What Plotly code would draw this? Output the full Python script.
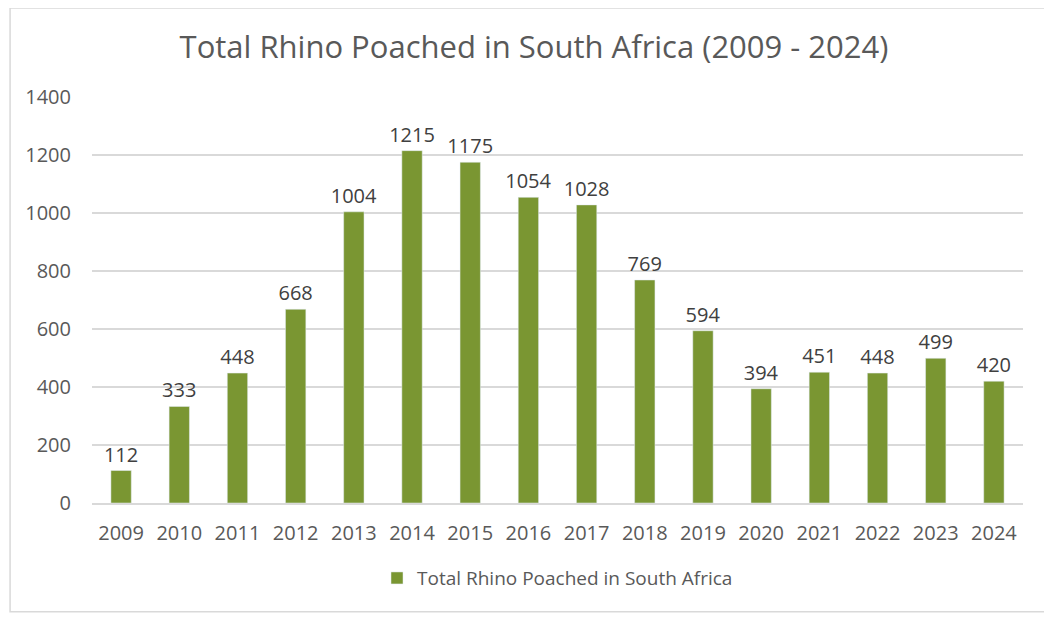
import plotly.graph_objects as go

years = ["2009", "2010", "2011", "2012", "2013", "2014", "2015", "2016",
         "2017", "2018", "2019", "2020", "2021", "2022", "2023", "2024"]
poached = [112, 333, 448, 668, 1004, 1215, 1175, 1054,
           1028, 769, 594, 394, 451, 448, 499, 420]
series_name = "Total Rhino Poached in South Africa"
chart_title = "Total Rhino Poached in South Africa (2009 - 2024)"

font_family = "Open Sans, Liberation Sans, sans-serif"

fig = go.Figure()
fig.add_trace(go.Bar(
    x=years,
    y=poached,
    name=series_name,
    marker_color="#7A9632",
    text=poached,
    textposition="outside",
    constraintext="none",
    textfont=dict(size=20, color="#404040", family=font_family),
    cliponaxis=False,
))

# page puts the figure 8px in from the top-left corner
fig.update_layout(
    width=1052,
    height=620,
    margin=dict(l=84, r=37, t=89, b=125),
    paper_bgcolor="white",
    plot_bgcolor="white",
    bargap=0.65,
    font=dict(family=font_family, color="#595959", size=20),
    title=dict(text=chart_title, x=0.5, xanchor="center", y=0.937,
               yanchor="middle", font=dict(size=31, color="#595959")),
    showlegend=True,
    legend=dict(orientation="h", x=0.5, xanchor="center", y=-0.185,
                yanchor="middle", itemwidth=30,
                font=dict(size=19, color="#595959")),
    shapes=[dict(type="rect", xref="paper", yref="paper",
                 x0=-0.088, x1=1.026, y0=-0.268, y1=1.219,
                 line=dict(color="#D9D9D9", width=1.5), layer="below")],
)
fig.update_xaxes(showgrid=False, showline=True, linecolor="#D9D9D9",
                 linewidth=1.5, ticks="", ticklabelstandoff=11)
fig.update_yaxes(range=[0, 1400], dtick=200, showgrid=True,
                 gridcolor="#D9D9D9", gridwidth=1.5, zeroline=False,
                 ticks="", ticklabelstandoff=20)

fig.write_html("out.html")
